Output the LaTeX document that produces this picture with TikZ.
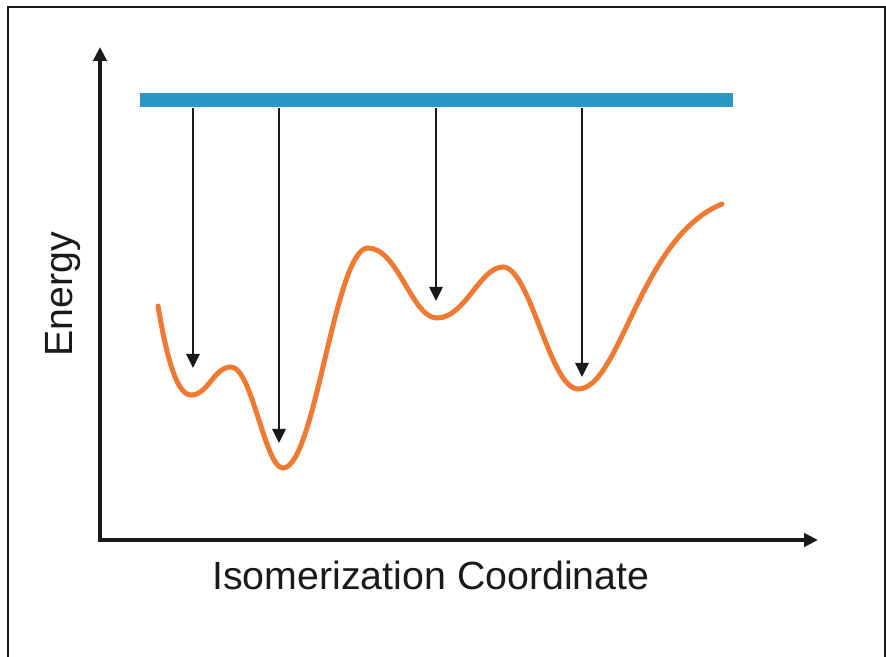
\documentclass[tikz,border=0pt]{standalone}
\usepackage{fontspec}
\setmainfont{Liberation Sans}
\usetikzlibrary{arrows.meta}
\definecolor{pesBlue}{HTML}{2A97C5}
\definecolor{pesOrange}{HTML}{F07A32}
\definecolor{pesInk}{HTML}{1A1A1A}

\begin{document}
\begin{tikzpicture}[x=0.75pt, y=0.75pt,
  axis/.style={pesInk, line width=3pt, {Triangle[length=10.5pt, width=10pt]}-{Triangle[length=10.5pt, width=10pt]}},
  drop/.style={pesInk, line width=1.6pt, -{Triangle[length=10.5pt, width=10pt]}},
  lbl/.style={font=\fontsize{29.5}{34}\selectfont, text=pesInk, inner sep=0pt}]
  \useasboundingbox (0,0) rectangle (886,657);
  % Frame, open at the bottom
  \draw[pesInk, line width=1.5pt] (7.5,0) -- (7.5,650) -- (885,650) -- (885,0);
  % Axes
  \coordinate (origin) at (100,117);
  \coordinate (ytip) at (100,610);
  \coordinate (xtip) at (818,117);
  \draw[axis] (ytip) -- (origin) -- (xtip);
  \node[lbl, anchor=base] (xlabel) at (431,67) {Isomerization Coordinate};
  \node[lbl, anchor=base, rotate=90] (ylabel) at (72,363) {Energy};
  % Excited level
  \coordinate (barL) at (140,557);
  \coordinate (barR) at (733,557);
  \coordinate (barbot) at (0,549);
  \draw[pesBlue, line width=10.5pt] (barL) -- (barR);
  % Ground-state surface: start, min, max, min, max, min, max, min, end
  \draw[pesOrange, line width=3.75pt, line cap=round]
    (158,351) .. controls (165,310) and (175,262) .. (191,262)
              .. controls (208,262) and (214,290) .. (231,290)
              .. controls (252,290) and (265,189) .. (283,189)
              .. controls (315,189) and (335,409) .. (368,409)
              .. controls (398,409) and (412,339) .. (437,339)
              .. controls (465,339) and (480,390) .. (503,390)
              .. controls (530,390) and (550,268) .. (578,268)
              .. controls (620,268) and (640,420) .. (722,453);
  % Relaxation into the wells
  \coordinate (w1) at (193,289);
  \coordinate (w2) at (279,214);
  \coordinate (w3) at (436,356);
  \coordinate (w4) at (582,280);
  \draw[drop] (w1 |- barbot) -- (w1);
  \draw[drop] (w2 |- barbot) -- (w2);
  \draw[drop] (w3 |- barbot) -- (w3);
  \draw[drop] (w4 |- barbot) -- (w4);
\end{tikzpicture}
\end{document}
